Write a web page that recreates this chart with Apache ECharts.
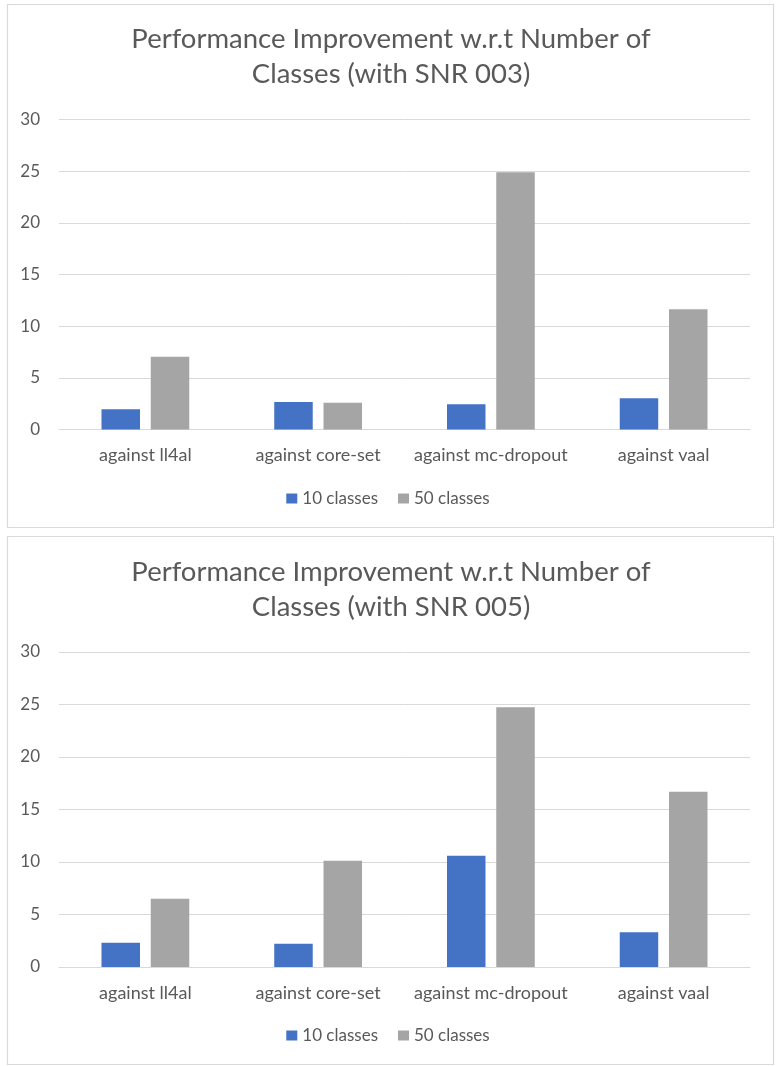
<!DOCTYPE html>
<html>
<head>
<meta charset="utf-8">
<script src="https://cdn.jsdelivr.net/npm/echarts@6/dist/echarts.min.js"></script>
<style>
html,body{margin:0;padding:0;background:#fff;}
#c{width:776px;height:1066px;}
</style>
</head>
<body>
<div id="c"></div>
<script>
var categories = ['against ll4al', 'against core-set', 'against mc-dropout', 'against vaal'];
var seriesNames = ['10 classes', '50 classes'];
var snr003_10 = [1.95, 2.66, 2.44, 3.02];
var snr003_50 = [7.05, 2.6, 24.9, 11.63];
var snr005_10 = [2.31, 2.22, 10.6, 3.3];
var snr005_50 = [6.5, 10.12, 24.73, 16.7];
var titles = ['Performance Improvement w.r.t Number of\nClasses (with SNR 003)',
              'Performance Improvement w.r.t Number of\nClasses (with SNR 005)'];

var FONT = 'Lato';
var TXT = '#595959';
var GRIDC = '#D9D9D9';
var BLUE = '#4472C4';
var GRAY = '#A5A5A5';

var chart = echarts.init(document.getElementById('c'), null, {renderer: 'canvas'});

function xAx(gi) {
  return {
    type: 'category', gridIndex: gi, data: categories,
    axisLine: {show: true, lineStyle: {color: GRIDC, width: 1}},
    axisTick: {show: false},
    axisLabel: {color: TXT, fontFamily: FONT, fontSize: 18, margin: 17, interval: 0}
  };
}
function yAx(gi) {
  return {
    type: 'value', gridIndex: gi, min: 0, max: 30, interval: 5,
    axisLine: {show: false}, axisTick: {show: false},
    axisLabel: {color: TXT, fontFamily: FONT, fontSize: 17, margin: 19},
    splitLine: {lineStyle: {color: GRIDC, width: 1}}
  };
}
function bar(name, data, gi, color) {
  return {
    name: name, type: 'bar', xAxisIndex: gi, yAxisIndex: gi, data: data,
    barWidth: 38.5, barGap: '28%',
    itemStyle: {color: color},
    emphasis: {disabled: true}
  };
}

var option = {
  animation: false,
  graphic: [
    {type: 'rect', shape: {x: 7.5, y: 4.5, width: 766, height: 523}, style: {fill: 'none', stroke: GRIDC, lineWidth: 1.2}, silent: true},
    {type: 'rect', shape: {x: 7.5, y: 536.5, width: 766, height: 528}, style: {fill: 'none', stroke: GRIDC, lineWidth: 1.2}, silent: true}
  ],
  title: [
    {text: titles[0], left: 391, top: 22, textAlign: 'center', padding: 0,
     textStyle: {color: TXT, fontFamily: FONT, fontSize: 27.5, fontWeight: 'normal', lineHeight: 35}},
    {text: titles[1], left: 391, top: 554.5, textAlign: 'center', padding: 0,
     textStyle: {color: TXT, fontFamily: FONT, fontSize: 27.5, fontWeight: 'normal', lineHeight: 35}}
  ],
  legend: [
    {data: seriesNames, left: 'center', top: 485, itemWidth: 11, itemHeight: 10, itemGap: 20, icon: 'rect',
     textStyle: {color: TXT, fontFamily: FONT, fontSize: 17}, selectedMode: false},
    {data: seriesNames, left: 'center', top: 1022, itemWidth: 11, itemHeight: 10, itemGap: 20, icon: 'rect',
     textStyle: {color: TXT, fontFamily: FONT, fontSize: 17}, selectedMode: false}
  ],
  grid: [
    {left: 59, right: 26, top: 119.5, height: 310},
    {left: 59, right: 26, top: 652, height: 315}
  ],
  xAxis: [xAx(0), xAx(1)],
  yAxis: [yAx(0), yAx(1)],
  series: [
    bar(seriesNames[0], snr003_10, 0, BLUE),
    bar(seriesNames[1], snr003_50, 0, GRAY),
    bar(seriesNames[0], snr005_10, 1, BLUE),
    bar(seriesNames[1], snr005_50, 1, GRAY)
  ]
};
chart.setOption(option);
</script>
</body>
</html>
